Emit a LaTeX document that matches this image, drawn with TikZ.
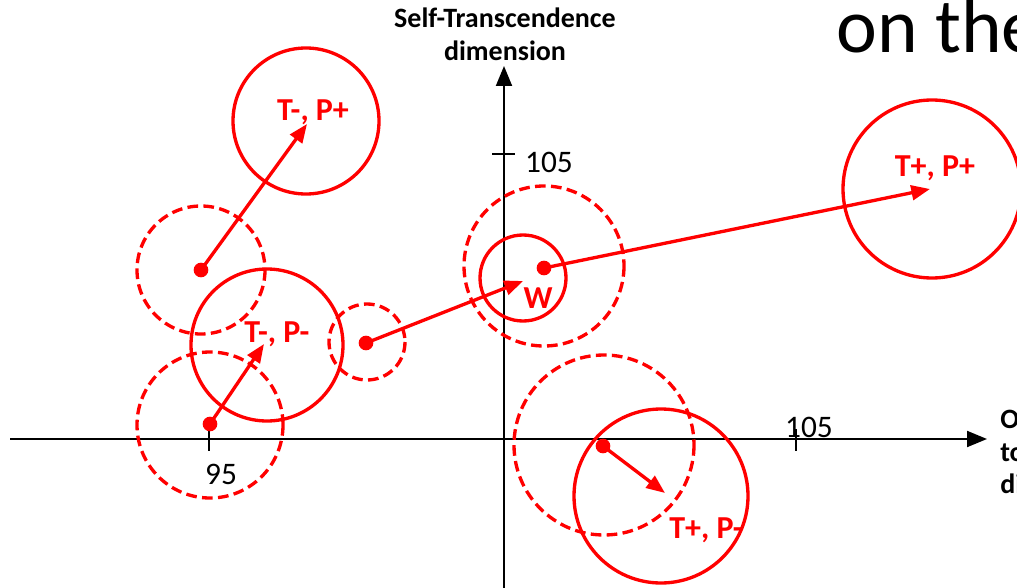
\documentclass[tikz,border=0pt]{standalone}
\usepackage{fontspec}
\setmainfont{Carlito}
\usetikzlibrary{arrows.meta}
\tikzset{
  ring/.style={draw=red, line width=2.5pt},
  dashring/.style={ring, dash pattern=on 8pt off 4pt},
  move/.style={red, line width=2.5pt, -{Triangle[length=14pt,width=11pt]}},
  dot/.style={circle, fill=red, inner sep=0pt, minimum size=11pt},
  lab/.style={text=red, inner sep=0pt, font=\bfseries\fontsize{24}{28}\selectfont},
  num/.style={inner sep=0pt, font=\fontsize{23.5}{28}\selectfont},
  axtitle/.style={inner sep=0pt, align=center, font=\bfseries\fontsize{21}{24.5}\selectfont}
}
\begin{document}
\begin{tikzpicture}[x=0.75pt, y=-0.75pt]
    \useasboundingbox (0,0) rectangle (1017,588);
    \clip (0,0) rectangle (1017,588);

    % Axes
    \coordinate (O) at (504,439);
    \coordinate (xl) at (10,439);
    \coordinate (xr) at (987,439);
    \coordinate (yb) at (504,590);
    \coordinate (yt) at (504,66);
    \draw[line width=1.5pt, -{Triangle[length=15pt,width=12pt]}] (xl) -- (xr);
    \draw[line width=1.5pt, -{Triangle[length=15pt,width=12pt]}] (yb) -- (yt);
    \draw[line width=1pt] (209,429) -- (209,451);
    \draw[line width=1pt] (796,429) -- (796,451);
    \draw[line width=1pt] (492,154) -- (515,154);
    \node[num] (n95) at (221,474) {95};
    \node[num] (n105x) at (809,427) {105};
    \node[num] (n105y) at (549,162) {105};
    \node[axtitle] (ytitle) at (505,34) {Self-Transcendence\\dimension};
    \node[axtitle, anchor=north west, align=left] (xtitle) at (1000,410) {Openness\\to change\\dimension};
    \node[anchor=base west, inner sep=0pt, font=\fontsize{58}{66}\selectfont] (title) at (836,53) {on the};

    % Starting points (dashed)
    \coordinate (s1) at (201,270);
    \coordinate (s2) at (210,424);
    \coordinate (s3) at (366,343);
    \coordinate (s4) at (544,268);
    \coordinate (s5) at (603,446);
    \draw[dashring] (s1) circle[radius=64];
    \draw[dashring] (210,425) circle[radius=73];
    \draw[dashring] (367,342) circle[radius=38];
    \draw[dashring] (544,266) circle[radius=80];
    \draw[dashring] (604,445) circle[radius=90];

    % Resulting positions (solid)
    \draw[ring] (306,121) circle[radius=73];
    \draw[ring] (267,345) circle[radius=76];
    \draw[ring] (523,278) circle[radius=43];
    \draw[ring] (932,189) circle[radius=89];
    \draw[ring] (661,496) circle[radius=87];

    % Targets
    \coordinate (t1) at (307,124);
    \coordinate (t2) at (264,344);
    \coordinate (t3) at (523,281);
    \coordinate (t4) at (930,189);
    \coordinate (t5) at (665,493);

    \draw[move] (s1) -- (t1);
    \draw[move] (s2) -- (t2);
    \draw[move] (s3) -- (t3);
    \draw[move] (s4) -- (t4);
    \draw[move] (s5) -- (t5);
    \foreach \p in {s1,s2,s3,s4,s5}
        \node[dot] at (\p) {};

    \node[lab] (tmpp) at (313,112) {T-, P+};
    \node[lab] (tmpm) at (277,334) {T-, P-};
    \node[lab] (w) at (538,298) {W};
    \node[lab] (tppp) at (935,168) {T+, P+};
    \node[lab] (tppm) at (706,530) {T+, P-};
\end{tikzpicture}
\end{document}
